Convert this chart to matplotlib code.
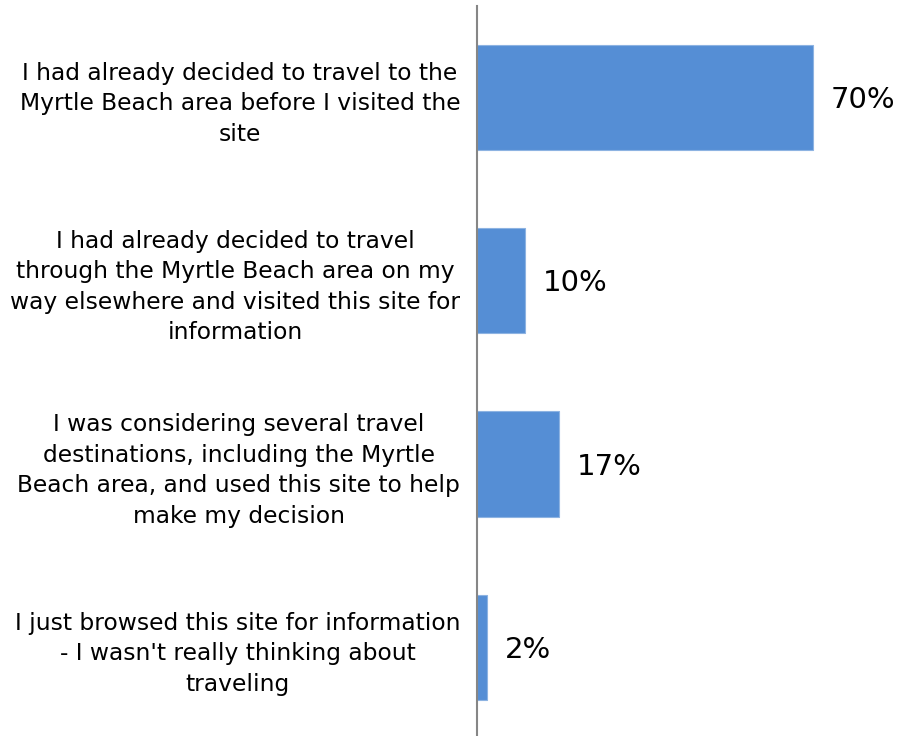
import matplotlib
matplotlib.use("Agg")
import matplotlib.pyplot as plt

categories = [
    "I had already decided to travel to the\nMyrtle Beach area before I visited the\nsite",
    "I had already decided to travel\nthrough the Myrtle Beach area on my\nway elsewhere and visited this site for\ninformation",
    "I was considering several travel\ndestinations, including the Myrtle\nBeach area, and used this site to help\nmake my decision",
    "I just browsed this site for information\n- I wasn't really thinking about\ntraveling",
]
values = [70, 10, 17, 2]

plt.rcParams["font.family"] = ["DejaVu Sans"]

fig = plt.figure(figsize=(8.99, 7.36), dpi=100)
ax = fig.add_axes([477 / 899, -3 / 736, 1 - 477 / 899, 733.3 / 736])

pos = list(range(len(categories)))
ax.barh(pos, values, height=0.573, color="#558ED5", edgecolor="#8DB3E2", linewidth=0.8)

ax.set_xlim(0, 88)
ax.set_ylim(3.5, -0.5)

for p, v in zip(pos, values):
    ax.annotate(f"{v}%", xy=(v, p), xytext=(13, -2), textcoords="offset points",
                ha="left", va="center", fontsize=21, color="black")

ax.set_yticks(pos)
ax.set_yticklabels(categories, fontsize=16.8, multialignment="center",
                   linespacing=1.42)
ax.tick_params(axis="y", length=0, pad=12)
ax.set_xticks([])

for s in ["top", "right", "bottom"]:
    ax.spines[s].set_visible(False)
ax.spines["left"].set_color("#868686")
ax.spines["left"].set_linewidth(1.5)

fig.savefig("out.png", dpi=100, facecolor="white")
